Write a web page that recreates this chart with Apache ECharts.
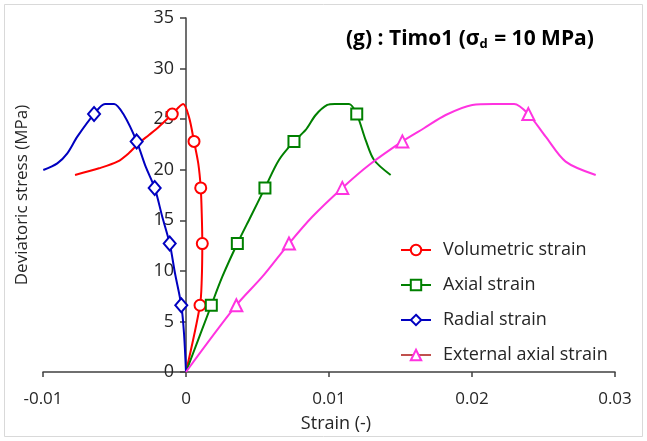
<!DOCTYPE html>
<html>
<head>
<meta charset="utf-8">
<script src="https://cdn.jsdelivr.net/npm/echarts@6/dist/echarts.min.js"></script>
<style>html,body{margin:0;padding:0;background:#fff}#c{width:647px;height:441px}</style>
</head>
<body>
<div id="c"></div>
<script>
// ---- data (strain [-], deviatoric stress [MPa]) ----
const seriesNames = ['Volumetric strain', 'Axial strain', 'Radial strain', 'External axial strain'];
const xTicks = [-0.01, 0, 0.01, 0.02, 0.03];
const yTicks = [0, 5, 10, 15, 20, 25, 30, 35];

const volumetric = [[0,0],[0.00098,6.6],[0.0011,9.1],[0.00114,12.7],[0.0011,15.7],[0.00103,18.2],[0.00086,20.6],[0.00056,22.8],[0.00021,25.2],[-0.0002,26.5],[-0.00096,25.5],[-0.00189,24.25],[-0.00259,23.43],[-0.00329,22.64],[-0.00399,21.65],[-0.0048,20.79],[-0.00608,20.14],[-0.00776,19.48]];
const volumetricMarks = [1,3,5,7,10];

const axial = [[0,0],[0.00177,6.6],[0.00254,9.42],[0.00359,12.7],[0.00452,15.35],[0.00552,18.2],[0.0065,20.96],[0.00755,22.8],[0.00837,23.93],[0.00907,25.41],[0.00988,26.4],[0.0104,26.5],[0.0114,26.5],[0.01194,25.5],[0.01257,22.9],[0.01315,20.96],[0.01431,19.48]];
const axialMarks = [1,3,5,7,13];

const radial = [[0,0],[-0.00014,3.83],[-0.00033,6.6],[-0.00077,9.76],[-0.00114,12.7],[-0.00166,15.35],[-0.00219,18.2],[-0.00282,20.3],[-0.00345,22.8],[-0.00434,25.4],[-0.00503,26.5],[-0.00566,26.5],[-0.00643,25.5],[-0.0076,23.27],[-0.0083,21.62],[-0.009,20.63],[-0.00998,19.97]];
const radialMarks = [2,4,6,8,12];

const external = [[0,0],[0.00352,6.6],[0.00534,9.42],[0.0072,12.7],[0.00883,15.35],[0.01093,18.2],[0.0128,20.47],[0.01513,22.8],[0.01664,24.1],[0.01816,25.41],[0.02002,26.4],[0.0215,26.5],[0.02294,26.5],[0.02394,25.5],[0.02515,23.27],[0.02655,20.8],[0.02865,19.48]];
const externalMarks = [1,3,5,7,13];

// ---- styling ----
const FONT = '"Open Sans", "DejaVu Sans", sans-serif';
const TXT = '#262626';
const AX = '#404040';
const GRID_LEFT = 43, GRID_RIGHT = 32;
const PLOT_W = 647 - GRID_LEFT - GRID_RIGHT;
// y axis drawn where strain = 0 (offset computed from the axis range)
const yAxisShift = PLOT_W * (0 - xTicks[0]) / (xTicks[xTicks.length - 1] - xTicks[0]);

function build(points, marks, symbol, size) {
  return points.map((p, i) => marks.indexOf(i) >= 0
    ? { value: p, symbol: symbol, symbolSize: size }
    : { value: p, symbol: 'none' });
}

function mkSeries(name, pts, marks, color, symbol, size) {
  return {
    name: name, type: 'line', data: build(pts, marks, symbol, size),
    symbol: symbol, symbolSize: size, showSymbol: true, smooth: 0.3,
    lineStyle: { color: color, width: 2 },
    itemStyle: { color: '#fff', borderColor: color, borderWidth: 2 },
    emphasis: { disabled: true }, z: 3
  };
}

const chart = echarts.init(document.getElementById('c'), null, { renderer: 'canvas' });
chart.setOption({
  animation: false,
  backgroundColor: '#fff',
  graphic: [{ type: 'rect', shape: { x: 4.5, y: 4.5, width: 638, height: 432 },
    style: { fill: 'none', stroke: '#d9d9d9', lineWidth: 1 }, z: -1 }],
  title: {
    text: '{a|(g) : Timo1 (σ}{s|d}{a| = 10 MPa)}',
    left: 346, top: 25, padding: 0,
    textStyle: {
      rich: {
        a: { fontFamily: FONT, fontWeight: 'bold', fontSize: 21, color: '#000', lineHeight: 28 },
        s: { fontFamily: FONT, fontWeight: 'bold', fontSize: 13, color: '#000', padding: [10, 1, 0, 0], lineHeight: 28 }
      }
    }
  },
  grid: { left: GRID_LEFT, right: GRID_RIGHT, top: 18, bottom: 69, containLabel: false, outerBoundsMode: 'none' },
  xAxis: {
    type: 'value', min: xTicks[0], max: xTicks[xTicks.length - 1], interval: 0.01,
    name: 'Strain (-)', nameLocation: 'middle', nameGap: 43,
    nameTextStyle: { fontFamily: FONT, fontSize: 18, color: TXT, padding: [0, 0, 0, 14] },
    axisLine: { show: true, onZero: false, lineStyle: { color: AX, width: 1.5 } },
    axisTick: { show: true, inside: false, length: 5, lineStyle: { color: AX, width: 1.5 } },
    axisLabel: { margin: 19, fontFamily: FONT, fontSize: 17, color: TXT,
      formatter: v => String(+(+v).toFixed(2)) },
    splitLine: { show: false }
  },
  yAxis: {
    type: 'value', min: yTicks[0], max: yTicks[yTicks.length - 1], interval: 5,
    offset: -yAxisShift,
    name: 'Deviatoric stress (MPa)', nameLocation: 'middle', nameGap: 155, nameRotate: 90,
    nameTextStyle: { fontFamily: FONT, fontSize: 17, color: TXT },
    axisLine: { show: true, onZero: false, lineStyle: { color: AX, width: 1.5 } },
    axisTick: { show: true, inside: false, length: 6, lineStyle: { color: AX, width: 1.5 } },
    axisLabel: { margin: 12, fontFamily: FONT, fontSize: 18, color: TXT },
    splitLine: { show: false }
  },
  legend: {
    orient: 'vertical', left: 400, top: 239, padding: 0,
    itemWidth: 30, itemHeight: 13, itemGap: 13,
    textStyle: { fontFamily: FONT, fontSize: 18, color: TXT, lineHeight: 22, padding: [0, 0, 0, 7] },
    data: [
      { name: seriesNames[0] },
      { name: seriesNames[1] },
      { name: seriesNames[2] },
      { name: seriesNames[3], lineStyle: { color: '#C0504D' } }
    ]
  },
  series: [
    mkSeries(seriesNames[0], volumetric, volumetricMarks, '#FF0000', 'circle', 11),
    mkSeries(seriesNames[1], axial, axialMarks, '#008000', 'rect', 11),
    mkSeries(seriesNames[2], radial, radialMarks, '#0000C0', 'diamond', [12, 14]),
    mkSeries(seriesNames[3], external, externalMarks, '#FF33E0', 'triangle', 12)
  ]
});
</script>
</body>
</html>
